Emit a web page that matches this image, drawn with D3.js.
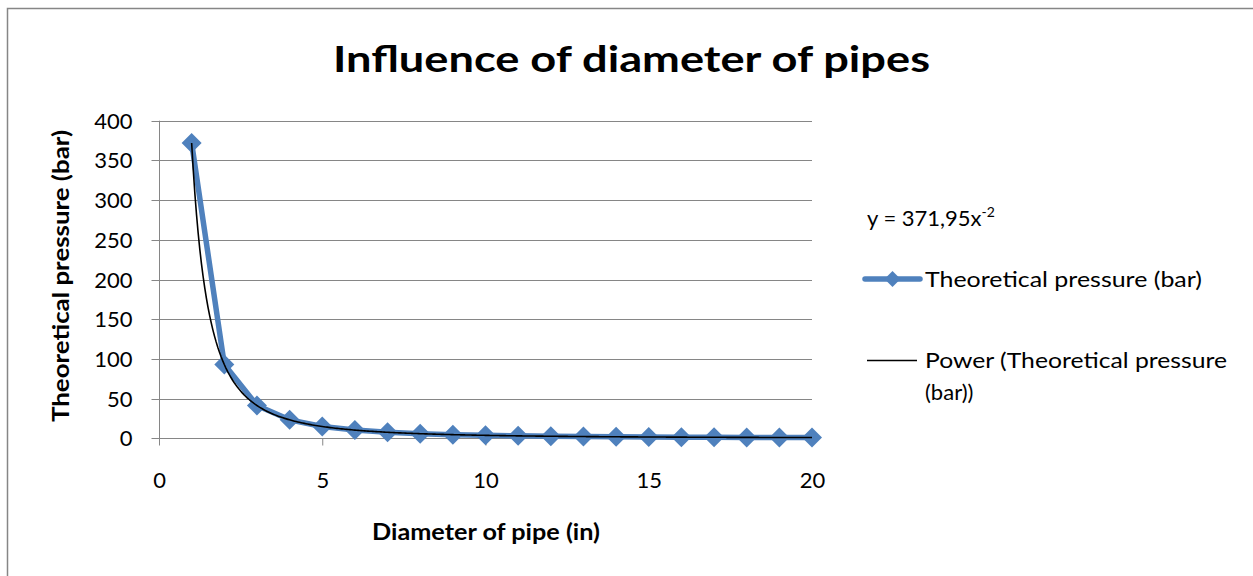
<!DOCTYPE html>
<html><head><meta charset="utf-8">
<script src="https://cdn.jsdelivr.net/npm/d3@7"></script>
<style>body{margin:0;background:#fff}svg{display:block}text{font-family:Lato,"Open Sans",sans-serif;fill:#000}</style>
</head><body>
<svg id="c" width="1253" height="576"></svg>
<script>
const diameters = [1,2,3,4,5,6,7,8,9,10,11,12,13,14,15,16,17,18,19,20];
const pressures = [371.95,92.99,41.33,23.25,14.88,10.33,7.59,5.81,4.59,3.72,3.07,2.58,2.20,1.90,1.65,1.45,1.29,1.15,1.03,0.93];
const xTicks = [0,5,10,15,20];
const yTicks = [0,50,100,150,200,250,300,350,400];
const titleText = "Influence of diameter of pipes";
const xTitle = "Diameter of pipe (in)";
const yTitle = "Theoretical pressure (bar)";
const seriesName = "Theoretical pressure (bar)";
const trendNameLines = ["Power (Theoretical pressure", "(bar))"];

const svg = d3.select("#c");
const blue = "#4F81BD", grid = "#868686";

svg.append("rect").attr("x",7.5).attr("y",8.5).attr("width",1300).attr("height",620)
  .attr("fill","#fff").attr("stroke",grid).attr("stroke-width",1.5);

const x = d3.scaleLinear().domain([0,20]).range([159,812]);
const y = d3.scaleLinear().domain([0,400]).range([438.3,120.7]);

// gridlines
svg.append("g").selectAll("line").data(yTicks.filter(d=>d>0)).join("line")
  .attr("x1",x(0)).attr("x2",x(20)).attr("y1",d=>Math.round(y(d))+0.5).attr("y2",d=>Math.round(y(d))+0.5)
  .attr("stroke",grid).attr("stroke-width",1);

// y axis
const yAxis = svg.append("g").attr("transform",`translate(${x(0)+0.5},0)`)
  .call(d3.axisLeft(y).tickValues(yTicks).tickSize(8).tickPadding(19).tickFormat(d3.format("d")));
yAxis.select(".domain").attr("stroke",grid).attr("d",`M0,${y(400)}V${y(0)}`);
yAxis.selectAll(".tick line").attr("stroke",grid);
yAxis.selectAll(".tick").attr("transform",d=>`translate(0,${Math.round(y(d))+0.5})`);
yAxis.selectAll("text").style("font-size","22px").attr("font-family",null).attr("dy","0.35em");

// x axis
const xAxis = svg.append("g").attr("transform",`translate(0,${Math.round(y(0))+0.5})`)
  .call(d3.axisBottom(x).tickValues(xTicks).tickSize(7).tickPadding(27));
xAxis.select(".domain").attr("stroke",grid).attr("d",`M${x(0)},0H${x(20)}`);
xAxis.selectAll(".tick line").attr("stroke",grid);
xAxis.selectAll("text").style("font-size","22px").attr("font-family",null);

// series line
const pts = diameters.map((d,i)=>[d,pressures[i]]);
svg.append("path").datum(pts)
  .attr("d",d3.line().x(d=>x(d[0])).y(d=>y(d[1])))
  .attr("fill","none").attr("stroke",blue).attr("stroke-width",5.5).attr("stroke-linejoin","round");

const diamond = r => `M0,${-r}L${r},0L0,${r}L${-r},0Z`;
svg.append("g").selectAll("path").data(pts).join("path")
  .attr("transform",d=>`translate(${x(d[0])},${y(d[1])})`)
  .attr("d",diamond(10)).attr("fill",blue);

// power trendline from least squares fit in log-log space
const lx = diameters.map(Math.log), ly = pressures.map(Math.log);
const mx = d3.mean(lx), my = d3.mean(ly);
const b = d3.sum(lx.map((v,i)=>(v-mx)*(ly[i]-my))) / d3.sum(lx.map(v=>(v-mx)*(v-mx)));
const a = Math.exp(my - b*mx);
const trendX = d3.range(1, 20.001, 0.05);
svg.append("path").datum(trendX)
  .attr("d",d3.line().x(d=>x(d)).y(d=>y(a*Math.pow(d,b))))
  .attr("fill","none").attr("stroke","#000").attr("stroke-width",1.6);

// title
svg.append("text").attr("x",631.5).attr("y",72).attr("text-anchor","middle")
  .style("font-size","37px").style("font-weight","bold")
  .attr("textLength",597).attr("lengthAdjust","spacingAndGlyphs").text(titleText);

// axis titles
svg.append("text").attr("x",486).attr("y",540).attr("text-anchor","middle")
  .style("font-size","23px").style("font-weight","bold")
  .attr("textLength",228).attr("lengthAdjust","spacingAndGlyphs").text(xTitle);
svg.append("text").attr("transform","translate(69,276) rotate(-90)").attr("text-anchor","middle")
  .style("font-size","23px").style("font-weight","bold")
  .attr("textLength",292).attr("lengthAdjust","spacingAndGlyphs").text(yTitle);

// equation label
const eq = svg.append("text").attr("x",867).attr("y",226).style("font-size","22px");
eq.append("tspan").text("y = 371,95x");
eq.append("tspan").attr("dy",-9).style("font-size","14px").text("-2");

// legend
const lg = svg.append("g");
lg.append("line").attr("x1",865).attr("x2",920).attr("y1",279).attr("y2",279)
  .attr("stroke",blue).attr("stroke-width",5.5).attr("stroke-linecap","round");
lg.append("path").attr("transform","translate(892.5,279)").attr("d",diamond(8)).attr("fill",blue);
lg.append("text").attr("x",925).attr("y",279).attr("dy","0.35em").style("font-size","22px")
  .attr("textLength",277).attr("lengthAdjust","spacingAndGlyphs").text(seriesName);
lg.append("line").attr("x1",867).attr("x2",917).attr("y1",360.5).attr("y2",360.5)
  .attr("stroke","#000").attr("stroke-width",1.5);
lg.selectAll("text.t2").data(trendNameLines).join("text").attr("class","t2")
  .attr("x",925).attr("y",(d,i)=>360+i*32).attr("dy","0.35em").style("font-size","22px")
  .each(function(d,i){ if(i===0) d3.select(this).attr("textLength",302).attr("lengthAdjust","spacingAndGlyphs"); })
  .text(d=>d);
</script>
</body></html>
